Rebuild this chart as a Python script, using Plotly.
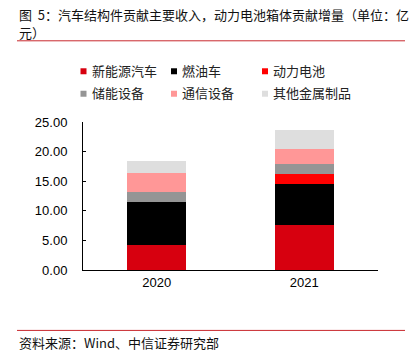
import plotly.graph_objects as go

years = ["2020", "2021"]
series_names = ["新能源汽车", "燃油车", "动力电池", "储能设备", "通信设备", "其他金属制品"]
v_nev = [4.25, 7.62]
v_fuel = [7.25, 6.92]
v_battery = [0.0, 1.62]
v_storage = [1.69, 1.68]
v_telecom = [3.20, 2.53]
v_other = [1.96, 3.21]
series_values = [v_nev, v_fuel, v_battery, v_storage, v_telecom, v_other]
colors = ["#D7000F", "#000000", "#FF0000", "#959595", "#FF9797", "#DEDEDE"]
y_ticks = [0, 5, 10, 15, 20, 25]
y_tick_labels = ["0.00", "5.00", "10.00", "15.00", "20.00", "25.00"]

W, H = 413, 353
ML, MR, MT, MB = 83, 35, 122.3, 82.5
PW, PH = W - ML - MR, H - MT - MB
FONT = "Liberation Sans, Arial, Noto Sans CJK SC, sans-serif"
CJK = "Noto Sans CJK SC, sans-serif"

fig = go.Figure()
for name, vals, col in zip(series_names, series_values, colors):
    fig.add_trace(go.Bar(x=years, y=vals, name=name, marker=dict(color=col, line=dict(width=0)),
                         width=0.4, showlegend=False))

fig.update_layout(
    width=W, height=H, barmode="stack",
    margin=dict(l=ML, r=MR, t=MT, b=MB),
    paper_bgcolor="white", plot_bgcolor="white",
    font=dict(family=FONT, size=13, color="#000000"),
    xaxis=dict(showgrid=False, showline=True, linecolor="#000000", linewidth=1.2,
               ticks="", tickfont=dict(size=13), zeroline=False),
    yaxis=dict(range=[0, 25], tickvals=y_ticks, ticktext=y_tick_labels, showgrid=False,
               showline=True, linecolor="#000000", linewidth=1,
               ticks="inside", ticklen=3, tickcolor="#000000", tickfont=dict(size=13),
               ticklabelstandoff=12, zeroline=False),
)

def px_x(x):
    return (x - ML) / PW

def px_y(y):
    return (H - MB - y) / PH

anns = []
shapes = []
# Title lines
anns.append(dict(xref="paper", yref="paper", x=px_x(17), y=px_y(15), xanchor="left", yanchor="middle",
                 text="图\u00a0\u00a05：汽车结构件贡献主要收入，动力电池箱体贡献增量（单位：亿", showarrow=False,
                 font=dict(size=13, family=CJK, color="#111111")))
anns.append(dict(xref="paper", yref="paper", x=px_x(17), y=px_y(33), xanchor="left", yanchor="middle",
                 text="元）", showarrow=False, font=dict(size=13, family=CJK, color="#111111")))
# Red rules
for yy in (41, 331):
    shapes.append(dict(type="line", xref="paper", yref="paper", x0=px_x(17), x1=px_x(405),
                       y0=px_y(yy), y1=px_y(yy), line=dict(color="#C8282E", width=1)))
# Source
anns.append(dict(xref="paper", yref="paper", x=px_x(17), y=px_y(343), xanchor="left", yanchor="middle",
                 text="资料来源：Wind、中信证券研究部", showarrow=False,
                 font=dict(size=13, family=CJK, color="#111111")))

# Legend (manual, 3 columns x 2 rows)
col_x = [83.5, 174, 265]
row_y = [71.5, 94]
for i, (name, col) in enumerate(zip(series_names, colors)):
    cx = col_x[i % 3]
    cy = row_y[i // 3]
    shapes.append(dict(type="rect", xref="paper", yref="paper",
                       x0=px_x(cx - 3), x1=px_x(cx + 3), y0=px_y(cy + 3), y1=px_y(cy - 3),
                       fillcolor=col, line=dict(width=0)))
    anns.append(dict(xref="paper", yref="paper", x=px_x(cx + 6), y=px_y(cy - 1), xanchor="left",
                     yanchor="middle", text=name, showarrow=False,
                     font=dict(size=13, family=CJK, color="#222222")))

fig.update_layout(annotations=anns, shapes=shapes)
fig.write_html("out.html")
